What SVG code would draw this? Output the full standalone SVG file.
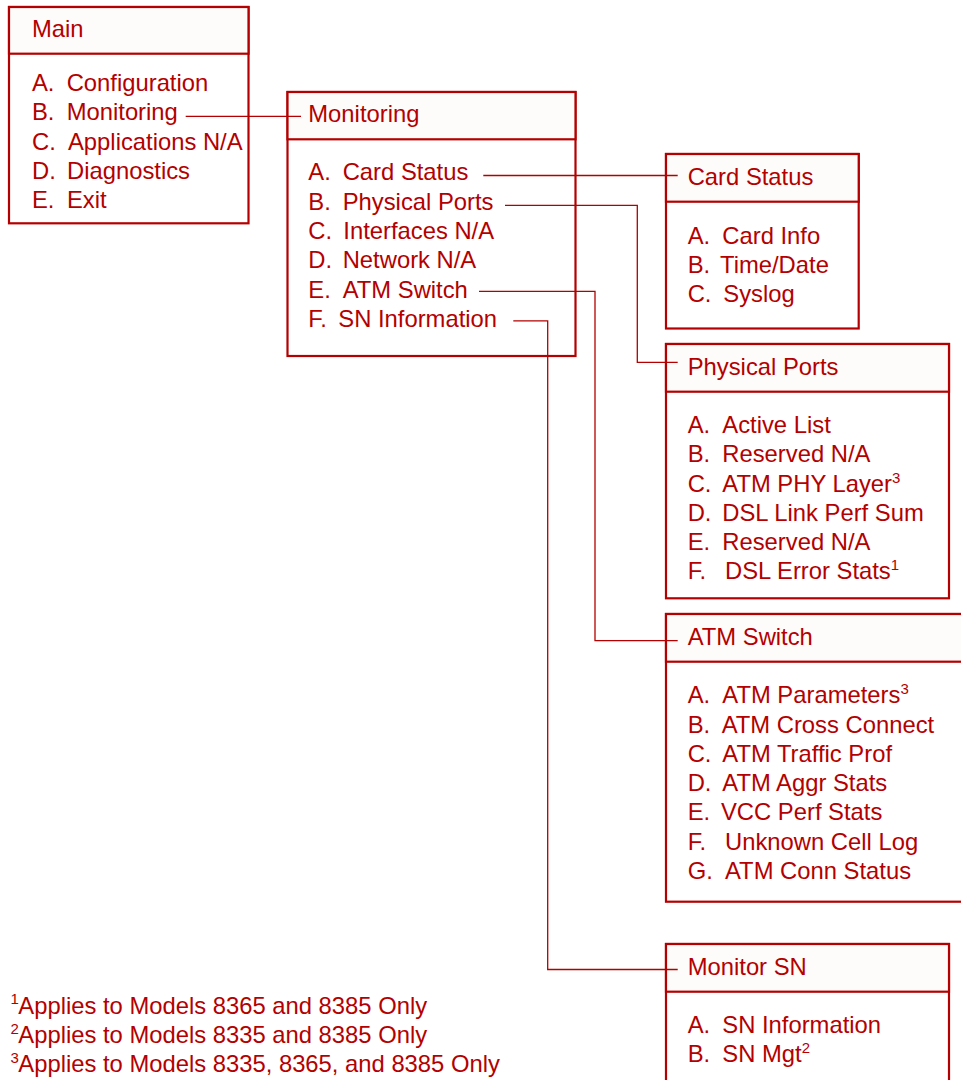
<svg xmlns="http://www.w3.org/2000/svg" width="961" height="1080" viewBox="0 0 961 1080">
<style>
.box{fill:#ffffff;stroke:#b40000;stroke-width:2.2}
.hdr{fill:#fdfcfa;stroke:#b40000;stroke-width:2.2}
.con{fill:none;stroke:#b40000;stroke-width:1.3}
text{font-family:"Liberation Sans",Arial,sans-serif;font-size:23.8px;fill:#b40000}
.sup{font-size:15px}
</style>
<rect width="961" height="1080" fill="#ffffff"/>
<g id="main">
<rect class="box" x="9" y="7" width="239.5" height="216.3"/>
<rect class="hdr" x="9" y="7" width="239.5" height="46.7"/>
<text x="32" y="37">Main</text>
<text x="32" y="91">A.<tspan x="66.7">Configuration</tspan></text>
<text x="32" y="120.3">B.<tspan x="66.7">Monitoring</tspan></text>
<text x="32" y="149.6">C.<tspan x="68">Applications N/A</tspan></text>
<text x="32" y="179">D.<tspan x="67">Diagnostics</tspan></text>
<text x="32" y="208">E.<tspan x="67">Exit</tspan></text>
</g>
<g id="monitoring">
<rect class="box" x="287.5" y="92" width="288" height="264"/>
<rect class="hdr" x="287.5" y="92" width="288" height="47.3"/>
<text x="308.3" y="121.7">Monitoring</text>
<text x="308.3" y="180.2">A.<tspan x="342.7">Card Status</tspan></text>
<text x="308.3" y="209.5">B.<tspan x="342.7">Physical Ports</tspan></text>
<text x="308.3" y="239">C.<tspan x="343.3">Interfaces N/A</tspan></text>
<text x="308.3" y="268.3">D.<tspan x="342.7">Network N/A</tspan></text>
<text x="308.3" y="297.5">E.<tspan x="342.7">ATM Switch</tspan></text>
<text x="308.3" y="326.8">F.<tspan x="338.3">SN Information</tspan></text>
</g>
<g id="card-status">
<rect class="box" x="666" y="154" width="192.7" height="174.5"/>
<rect class="hdr" x="666" y="154" width="192.7" height="47.7"/>
<text x="687.7" y="185">Card Status</text>
<text x="687.7" y="243.5">A.<tspan x="722.3">Card Info</tspan></text>
<text x="687.7" y="272.8">B.<tspan x="720">Time/Date</tspan></text>
<text x="687.7" y="302.3">C.<tspan x="723.3">Syslog</tspan></text>
</g>
<g id="physical-ports">
<rect class="box" x="666" y="344" width="283" height="254.3"/>
<rect class="hdr" x="666" y="344" width="283" height="47.7"/>
<text x="687.7" y="375">Physical Ports</text>
<text x="687.7" y="432.5">A.<tspan x="722.3">Active List</tspan></text>
<text x="687.7" y="462">B.<tspan x="722.3">Reserved N/A</tspan></text>
<text x="687.7" y="491.5">C.<tspan x="722.3">ATM PHY Layer</tspan><tspan class="sup" dy="-9">3</tspan></text>
<text x="687.7" y="520.5">D.<tspan x="722.3">DSL Link Perf Sum</tspan></text>
<text x="687.7" y="550">E.<tspan x="722.3">Reserved N/A</tspan></text>
<text x="687.7" y="579.3">F.<tspan x="725">DSL Error Stats</tspan><tspan class="sup" dy="-9">1</tspan></text>
</g>
<g id="atm-switch">
<rect class="box" x="666" y="614" width="310" height="287.7"/>
<rect class="hdr" x="666" y="614" width="310" height="47.7"/>
<text x="687.7" y="645">ATM Switch</text>
<text x="687.7" y="702.7">A.<tspan x="722.3">ATM Parameters</tspan><tspan class="sup" dy="-9">3</tspan></text>
<text x="687.7" y="732.5">B.<tspan x="721.7">ATM Cross Connect</tspan></text>
<text x="687.7" y="762.3">C.<tspan x="722.3">ATM Traffic Prof</tspan></text>
<text x="687.7" y="791.3">D.<tspan x="722.3">ATM Aggr Stats</tspan></text>
<text x="687.7" y="820.3">E.<tspan x="721">VCC Perf Stats</tspan></text>
<text x="687.7" y="850">F.<tspan x="725">Unknown Cell Log</tspan></text>
<text x="687.7" y="878.5">G.<tspan x="725">ATM Conn Status</tspan></text>
</g>
<g id="monitor-sn">
<rect class="box" x="666" y="944" width="283" height="150"/>
<rect class="hdr" x="666" y="944" width="283" height="47.7"/>
<text x="687.7" y="975">Monitor SN</text>
<text x="687.7" y="1032.7">A.<tspan x="722.3">SN Information</tspan></text>
<text x="687.7" y="1061.7">B.<tspan x="722.3">SN Mgt</tspan><tspan class="sup" dy="-9">2</tspan></text>
</g>
<g id="footnotes">
<text x="10.5" y="1004" class="sup">1</text>
<text x="18.3" y="1013.5">Applies to Models 8365 and 8385 Only</text>
<text x="10.5" y="1033.5" class="sup">2</text>
<text x="18.3" y="1043.2">Applies to Models 8335 and 8385 Only</text>
<text x="10.5" y="1062.5" class="sup">3</text>
<text x="18.3" y="1071.8">Applies to Models 8335, 8365, and 8385 Only</text>
</g>
<g id="connectors">
<path class="con" d="M185.7 116.3H301"/>
<path class="con" d="M483.3 175.5H677.7"/>
<path class="con" d="M505 205.3H637.3V362.3H677.7"/>
<path class="con" d="M479 291.3H595V640.7H677.7"/>
<path class="con" d="M513.3 320.8H547.7V969.5H677.7"/>
</g>
</svg>
